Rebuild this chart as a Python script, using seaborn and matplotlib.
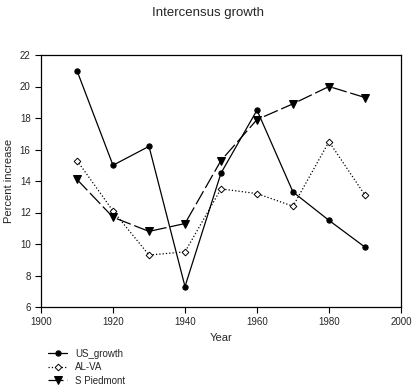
import pandas as pd
import matplotlib.pyplot as plt
import seaborn as sns

sns.set_style("ticks")
plt.rcParams["font.family"] = ["Liberation Sans", "DejaVu Sans"]

years = [1910, 1920, 1930, 1940, 1950, 1960, 1970, 1980, 1990]
us_growth = [21.0, 15.0, 16.2, 7.3, 14.5, 18.5, 13.3, 11.5, 9.8]
al_va = [15.3, 12.1, 9.3, 9.5, 13.5, 13.2, 12.4, 16.5, 13.1]
s_piedmont = [14.1, 11.7, 10.8, 11.3, 15.3, 17.9, 18.9, 20.0, 19.3]

df = pd.DataFrame({"Year": years, "US_growth": us_growth, "AL-VA": al_va, "S Piedmont": s_piedmont})

fig = plt.figure(figsize=(4.16, 3.92), dpi=100)
ax = fig.add_axes([41 / 416, 1 - 307 / 392, 360 / 416, 252 / 392])

sns.lineplot(data=df, x="Year", y="US_growth", ax=ax, color="black", lw=0.9,
             marker="o", markersize=3.8, markerfacecolor="black", markeredgecolor="black",
             label="US_growth")
sns.lineplot(data=df, x="Year", y="AL-VA", ax=ax, color="black", lw=0.9, linestyle=":",
             marker="D", markersize=3.4, markerfacecolor="white", markeredgecolor="black",
             markeredgewidth=0.7, label="AL-VA")
sns.lineplot(data=df, x="Year", y="S Piedmont", ax=ax, color="black", lw=0.9,
             dashes=(12, 3), marker="v", markersize=5.2, markerfacecolor="black",
             markeredgecolor="black", label="S Piedmont")

ax.set_xlim(1900, 2000)
ax.set_ylim(6, 22)
ax.set_xticks(range(1900, 2001, 20))
ax.set_yticks(range(6, 23, 2))
ax.tick_params(labelsize=7, length=4, width=0.8, color="black", direction="out")
for s in ax.spines.values():
    s.set_visible(True)
    s.set_linewidth(0.9)
    s.set_color("black")
ax.set_xlabel("Year", fontsize=8)
ax.set_ylabel("Percent increase", fontsize=8)
fig.suptitle("Intercensus growth", fontsize=9.5, y=0.982)

handles, labels = ax.get_legend_handles_labels()
ax.get_legend().remove()
fig.legend(handles, labels, loc="upper left", bbox_to_anchor=(44 / 416, 1 - 345 / 392),
           frameon=False, fontsize=7, handlelength=2.0, labelspacing=0.35,
           handletextpad=0.8, borderaxespad=0)

fig.savefig("out.png", dpi=100)
